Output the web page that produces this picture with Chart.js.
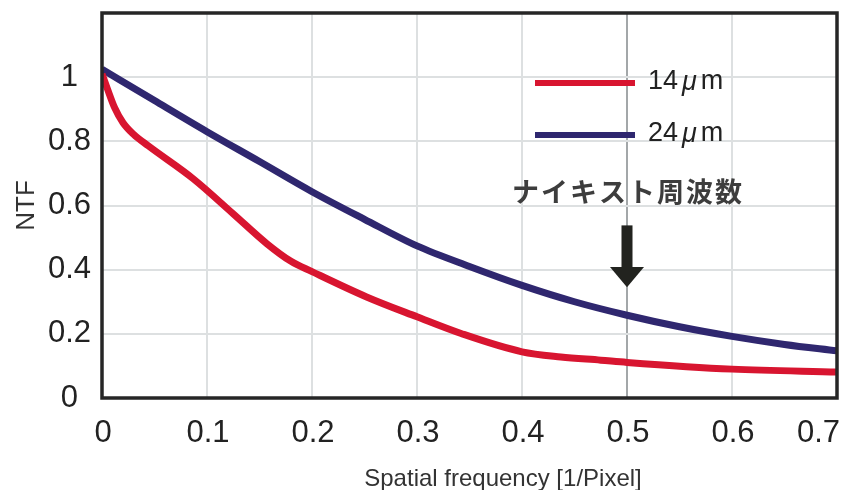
<!DOCTYPE html>
<html>
<head>
<meta charset="utf-8">
<script src="https://cdn.jsdelivr.net/npm/chart.js@4.4.1/dist/chart.umd.min.js"></script>
<style>
  html, body { margin: 0; padding: 0; background: #fff; }
  #wrap { width: 843px; height: 490px; }
</style>
</head>
<body>
<div id="wrap"><canvas id="ntfChart" width="843" height="490"></canvas></div>
<script>
// Data
const seriesLabels = ['14μm', '24μm'];
const seriesColors = ['#d81530', '#2f276f'];

const freq14 = [0, 0.005, 0.012, 0.02, 0.03, 0.044, 0.087, 0.125, 0.157, 0.18, 0.2, 0.252, 0.3, 0.342, 0.4, 0.437, 0.475, 0.5, 0.6, 0.7];
const ntf14  = [1.01, 0.965, 0.905, 0.858, 0.822, 0.786, 0.683, 0.574, 0.481, 0.426, 0.394, 0.315, 0.253, 0.201, 0.144, 0.128, 0.118, 0.111, 0.09, 0.081];

const freq24 = [0, 0.05, 0.1, 0.15, 0.2, 0.25, 0.3, 0.35, 0.4, 0.45, 0.5, 0.55, 0.6, 0.65, 0.7];
const ntf24  = [1.025, 0.927, 0.83, 0.737, 0.643, 0.557, 0.474, 0.41, 0.351, 0.3, 0.258, 0.222, 0.192, 0.167, 0.147];

const xTickLabels = ['0', '0.1', '0.2', '0.3', '0.4', '0.5', '0.6', '0.7'];
const yTickLabels = ['0', '0.2', '0.4', '0.6', '0.8', '1'];

const xTitle = 'Spatial frequency [1/Pixel]';
const yTitle = 'NTF';
const nyquistLabel = 'ナイキスト周波数';
const nyquist = 0.5;

const LATIN = '"Liberation Sans", Arial, sans-serif';
const CJK = '"Noto Sans CJK JP", sans-serif';

function toPoints(xs, ys) {
    return xs.map((x, i) => ({ x: x, y: ys[i] }));
}

// label like "14μm" with an italic μ and a bit of air round it
function drawUnitLabel(ctx, text, x, y) {
    let cx = x;
    for (const ch of text) {
        const isMu = ch === 'μ';
        ctx.font = (isMu ? 'italic ' : '') + '27px ' + LATIN;
        if (isMu) cx += 4;
        ctx.fillText(ch, cx, y);
        cx += ctx.measureText(ch).width + (isMu ? 4 : 0);
    }
}

const overlay = {
    id: 'overlay',
    afterDatasetsDraw(chart) {
        const { ctx, chartArea: a } = chart;
        ctx.save();
        ctx.strokeStyle = '#262626';
        ctx.lineWidth = 3.5;
        ctx.strokeRect(a.left, a.top, a.right - a.left, a.bottom - a.top);
        ctx.restore();
    },
    afterDraw(chart) {
        const { ctx } = chart;
        const xs = chart.scales.x;
        const ys = chart.scales.y;
        ctx.save();

        // x tick labels, the last one kept inside the canvas
        ctx.fillStyle = '#222';
        ctx.font = '31px ' + LATIN;
        ctx.textAlign = 'center';
        ctx.textBaseline = 'alphabetic';
        xs.ticks.forEach((t, i) => {
            const label = xTickLabels[i];
            if (!label) return;
            const w = ctx.measureText(label).width;
            let px = xs.getPixelForValue(t.value);
            px = Math.min(px, chart.width - 4 - w / 2);
            ctx.fillText(label, px + 1, 442);
        });

        // x title
        ctx.fillStyle = '#333';
        ctx.font = '24px ' + LATIN;
        ctx.fillText(xTitle, 503, 486);

        // legend inside the plot
        chart.data.datasets.forEach((ds, i) => {
            const y = 83 + i * 52;
            ctx.strokeStyle = ds.borderColor;
            ctx.lineWidth = 6;
            ctx.beginPath();
            ctx.moveTo(535, y);
            ctx.lineTo(635, y);
            ctx.stroke();
            ctx.fillStyle = '#222';
            ctx.textAlign = 'left';
            ctx.textBaseline = 'middle';
            drawUnitLabel(ctx, ds.label, 648, y - 1);
        });

        // Nyquist annotation and arrow
        const nx = xs.getPixelForValue(nyquist);
        ctx.fillStyle = '#3d3d3d';
        ctx.font = 'bold 27px ' + CJK;
        ctx.textAlign = 'center';
        ctx.textBaseline = 'middle';
        ctx.letterSpacing = '2px';
        ctx.fillText(nyquistLabel, nx + 1, 192);
        ctx.letterSpacing = '0px';

        const shaftTop = ys.getPixelForValue(0.538);
        const headBase = ys.getPixelForValue(0.408);
        const tip = ys.getPixelForValue(0.345);
        ctx.fillStyle = '#22231f';
        ctx.fillRect(nx - 5.5, shaftTop, 11, headBase - shaftTop + 1);
        ctx.beginPath();
        ctx.moveTo(nx - 17, headBase);
        ctx.lineTo(nx + 17, headBase);
        ctx.lineTo(nx, tip);
        ctx.closePath();
        ctx.fill();

        ctx.restore();
    }
};

const chart = new Chart(document.getElementById('ntfChart'), {
    type: 'line',
    data: {
        datasets: [
            {
                label: seriesLabels[0],
                data: toPoints(freq14, ntf14),
                borderColor: seriesColors[0],
                borderWidth: 7,
                pointRadius: 0,
                cubicInterpolationMode: 'monotone',
                fill: false
            },
            {
                label: seriesLabels[1],
                data: toPoints(freq24, ntf24),
                borderColor: seriesColors[1],
                borderWidth: 7,
                pointRadius: 0,
                cubicInterpolationMode: 'monotone',
                fill: false
            }
        ]
    },
    options: {
        responsive: false,
        animation: false,
        layout: { padding: { top: 13, right: 6, left: 0, bottom: 0 } },
        plugins: {
            legend: { display: false },
            tooltip: { enabled: false }
        },
        scales: {
            x: {
                type: 'linear',
                min: 0,
                max: 0.7,
                ticks: { stepSize: 0.1, display: false },
                grid: {
                    drawTicks: false,
                    lineWidth: 2,
                    color: c => (c.tick && Math.abs(c.tick.value - nyquist) < 1e-6) ? '#a3a7a9' : '#dde0e1'
                },
                border: { display: false },
                afterFit: s => { s.height = 92; }
            },
            y: {
                min: 0,
                max: 1.2,
                ticks: {
                    stepSize: 0.2,
                    crossAlign: 'center',
                    padding: 11,
                    color: '#222',
                    font: { family: LATIN, size: 31 },
                    callback: (v, i) => yTickLabels[i] ?? null
                },
                grid: { drawTicks: false, lineWidth: 2, color: '#dde0e1' },
                border: { display: false },
                title: {
                    display: true,
                    text: yTitle,
                    color: '#333',
                    font: { family: LATIN, size: 26 },
                    padding: { top: 11, bottom: 0 }
                },
                afterFit: s => {
                    s.width = 102;
                    s.paddingTop = 0;
                    s.paddingBottom = 0;
                }
            }
        }
    },
    plugins: [overlay]
});
</script>
</body>
</html>
